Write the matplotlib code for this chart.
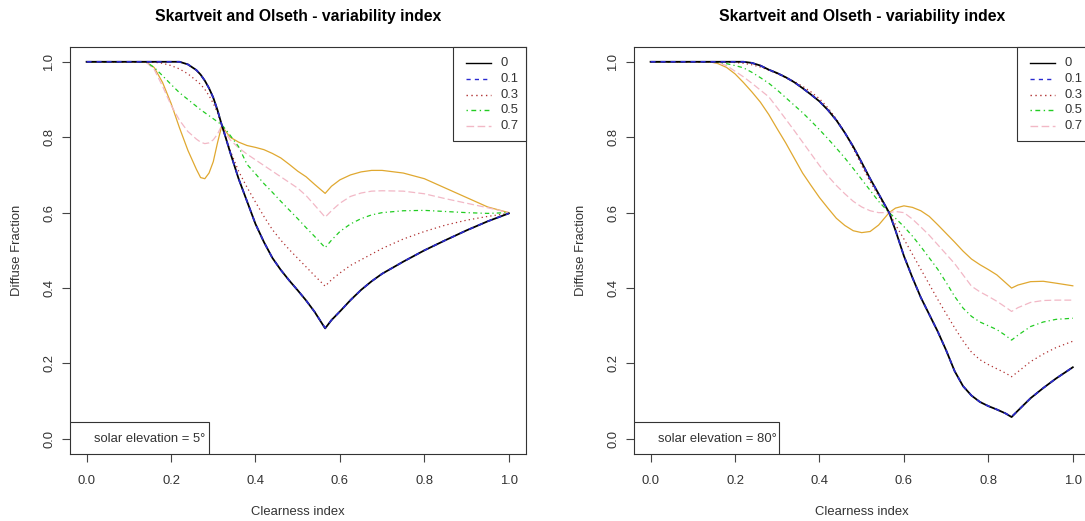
import matplotlib
matplotlib.use("Agg")
import matplotlib.pyplot as plt
from matplotlib.patches import Rectangle
from matplotlib.lines import Line2D

# ---------------- data ----------------
title = "Skartveit and Olseth - variability index"
xlabel = "Clearness index"
ylabel = "Diffuse Fraction"
legend_labels = ["0", "0.1", "0.3", "0.5", "0.7"]
elev_labels = ["solar elevation = 5°", "solar elevation = 80°"]
xticks = [0.0, 0.2, 0.4, 0.6, 0.8, 1.0]
yticks = [0.0, 0.2, 0.4, 0.6, 0.8, 1.0]

# left panel: solar elevation 5 deg
kt_left = [0, 0.05, 0.10, 0.14, 0.16, 0.18, 0.20, 0.22, 0.24, 0.26,
           0.27, 0.28, 0.29, 0.30, 0.31, 0.32, 0.33, 0.34, 0.36, 0.38,
           0.40, 0.42, 0.44, 0.46, 0.48, 0.50, 0.52, 0.54, 0.565, 0.58,
           0.60, 0.625, 0.65, 0.675, 0.70, 0.75, 0.80, 0.85, 0.90, 0.95, 1.0]
left_v00 = [1, 1, 1, 1, 1, 1, 1, 1.0, 0.993, 0.978,
            0.966, 0.95, 0.93, 0.905, 0.872, 0.833, 0.797, 0.76, 0.69, 0.63,
            0.57, 0.522, 0.48, 0.448, 0.42, 0.394, 0.367, 0.337, 0.293, 0.315,
            0.338, 0.368, 0.395, 0.418, 0.438, 0.47, 0.50, 0.527, 0.553, 0.577, 0.598]
left_v01 = [1, 1, 1, 1, 1, 1, 1, 1.0, 0.993, 0.978,
            0.966, 0.95, 0.93, 0.905, 0.872, 0.833, 0.797, 0.76, 0.69, 0.63,
            0.57, 0.522, 0.48, 0.448, 0.42, 0.394, 0.367, 0.337, 0.294, 0.315,
            0.338, 0.368, 0.395, 0.418, 0.438, 0.47, 0.50, 0.527, 0.553, 0.577, 0.598]
left_v03 = [1, 1, 1, 1, 0.999, 0.996, 0.99, 0.981, 0.968, 0.95,
            0.94, 0.927, 0.91, 0.89, 0.865, 0.833, 0.797, 0.765, 0.71, 0.667,
            0.628, 0.59, 0.555, 0.527, 0.502, 0.479, 0.456, 0.433, 0.405, 0.422,
            0.44, 0.46, 0.475, 0.49, 0.505, 0.53, 0.55, 0.567, 0.58, 0.59, 0.598]
left_v05 = [1, 1, 1, 1, 0.985, 0.963, 0.94, 0.918, 0.9, 0.882,
            0.873, 0.865, 0.857, 0.849, 0.841, 0.833, 0.82, 0.805, 0.775, 0.728,
            0.703, 0.677, 0.654, 0.63, 0.607, 0.584, 0.56, 0.537, 0.507, 0.527,
            0.55, 0.57, 0.584, 0.594, 0.6, 0.605, 0.606, 0.603, 0.6, 0.598, 0.6]
left_v07 = [1, 1, 1, 1, 0.98, 0.935, 0.885, 0.845, 0.815, 0.795,
            0.787, 0.783, 0.785, 0.793, 0.808, 0.831, 0.81, 0.793, 0.772, 0.755,
            0.74, 0.725, 0.71, 0.695, 0.68, 0.665, 0.645, 0.62, 0.588, 0.605,
            0.625, 0.643, 0.652, 0.657, 0.658, 0.657, 0.65, 0.637, 0.625, 0.613, 0.6]
left_v09 = [1, 1, 1, 1, 0.985, 0.945, 0.89, 0.825, 0.765, 0.715,
            0.693, 0.69, 0.705, 0.735, 0.785, 0.83, 0.815, 0.80, 0.787, 0.778,
            0.773, 0.767, 0.757, 0.745, 0.728, 0.71, 0.695, 0.675, 0.651, 0.67,
            0.687, 0.70, 0.708, 0.712, 0.712, 0.705, 0.69, 0.665, 0.64, 0.615, 0.6]

# right panel: solar elevation 80 deg
kt_right = [0, 0.05, 0.10, 0.14, 0.16, 0.18, 0.20, 0.22, 0.24, 0.26,
            0.28, 0.30, 0.32, 0.34, 0.36, 0.38, 0.40, 0.42, 0.44, 0.46,
            0.48, 0.50, 0.52, 0.54, 0.565, 0.58, 0.60, 0.62, 0.64, 0.66,
            0.68, 0.70, 0.72, 0.74, 0.76, 0.78, 0.80, 0.82, 0.84, 0.855,
            0.87, 0.90, 0.93, 0.96, 1.0]
right_v00 = [1, 1, 1, 1, 1, 1, 1, 1.0, 0.997, 0.99,
             0.979, 0.97, 0.959, 0.946, 0.93, 0.913, 0.895, 0.872, 0.845, 0.812,
             0.775, 0.733, 0.69, 0.65, 0.6, 0.553, 0.485, 0.428, 0.375, 0.33,
             0.285, 0.235, 0.18, 0.14, 0.115, 0.098, 0.087, 0.078, 0.068, 0.058,
             0.075, 0.108, 0.135, 0.16, 0.19]
right_v01 = [1, 1, 1, 1, 1, 1, 1, 1.0, 0.997, 0.99,
             0.979, 0.97, 0.959, 0.946, 0.93, 0.913, 0.895, 0.872, 0.845, 0.812,
             0.775, 0.733, 0.69, 0.65, 0.6, 0.553, 0.485, 0.428, 0.375, 0.33,
             0.285, 0.235, 0.18, 0.14, 0.115, 0.098, 0.087, 0.078, 0.068, 0.059,
             0.075, 0.108, 0.135, 0.16, 0.19]
right_v03 = [1, 1, 1, 1, 1.0, 0.999, 0.998, 0.996, 0.992, 0.986,
             0.978, 0.968, 0.958, 0.948, 0.935, 0.92, 0.902, 0.878, 0.848, 0.812,
             0.77, 0.725, 0.682, 0.644, 0.6, 0.568, 0.53, 0.49, 0.45, 0.41,
             0.37, 0.332, 0.295, 0.26, 0.23, 0.21, 0.197, 0.186, 0.175, 0.165,
             0.178, 0.205, 0.225, 0.242, 0.259]
right_v05 = [1, 1, 1, 1, 0.999, 0.995, 0.99, 0.984, 0.972, 0.958,
             0.943, 0.925, 0.905, 0.885, 0.865, 0.843, 0.82, 0.796, 0.771, 0.745,
             0.717, 0.688, 0.659, 0.63, 0.6, 0.585, 0.563, 0.538, 0.51, 0.48,
             0.45, 0.415, 0.378, 0.347, 0.325, 0.31, 0.30, 0.29, 0.275, 0.262,
             0.275, 0.298, 0.31, 0.317, 0.32]
right_v07 = [1, 1, 1, 1, 0.997, 0.99, 0.975, 0.96, 0.943, 0.925,
             0.907, 0.878, 0.848, 0.818, 0.787, 0.756, 0.725, 0.697, 0.672, 0.65,
             0.63, 0.615, 0.605, 0.60, 0.60, 0.603, 0.60, 0.583, 0.562, 0.54,
             0.515, 0.49, 0.465, 0.435, 0.405, 0.39, 0.378, 0.365, 0.35, 0.338,
             0.348, 0.362, 0.367, 0.368, 0.368]
right_v09 = [1, 1, 1, 1, 0.995, 0.985, 0.968, 0.945, 0.92, 0.893,
             0.86, 0.822, 0.785, 0.745, 0.705, 0.672, 0.64, 0.612, 0.585, 0.566,
             0.552, 0.547, 0.55, 0.567, 0.60, 0.612, 0.618, 0.614, 0.605, 0.59,
             0.568, 0.545, 0.522, 0.498, 0.477, 0.462, 0.449, 0.435, 0.415, 0.40,
             0.408, 0.417, 0.418, 0.413, 0.406]

# ---------------- styling ----------------
W, H = 1085, 521
FS = 9.4
TFS = 11.3
FONT = "Liberation Sans"
plt.rcParams["font.family"] = [FONT, "DejaVu Sans"]

series_styles = [
    dict(color="black", ls="-", lw=1.3),
    dict(color="#2a2ad0", ls=(0, (3, 3)), lw=1.2),
    dict(color="#b03030", ls=(0, (1, 2.5)), lw=0.9),
    dict(color="#22cc22", ls=(0, (1, 2.5, 3.5, 2.5)), lw=0.9),
    dict(color="#f2b8c6", ls=(0, (5.5, 2.5)), lw=0.9),
    dict(color="#e0a830", ls="-", lw=0.9),
]

fig = plt.figure(figsize=(W / 100, H / 100), dpi=100)

ax_w = 456 / W
ax_h = 407.3 / H
ax_b = (H - 454) / H
lefts = [69.7 / W, 633.7 / W]

panels = [
    (kt_left, [left_v00, left_v01, left_v03, left_v05, left_v07, left_v09], elev_labels[0], 0.3044),
    (kt_right, [right_v00, right_v01, right_v03, right_v05, right_v07, right_v09], elev_labels[1], 0.3195),
]

for (kt, curves, elev, boxw), lx in zip(panels, lefts):
    ax = fig.add_axes([lx, ax_b, ax_w, ax_h])
    # draw in order: coloured first, then black, then blue dashed on top
    order = [5, 4, 3, 2, 0, 1]
    for i in order:
        st = series_styles[i]
        ax.plot(kt, curves[i], color=st["color"], linestyle=st["ls"], lw=st["lw"],
                solid_joinstyle="round", dash_capstyle="butt")
    ax.set_xlim(-0.04, 1.04)
    ax.set_ylim(-0.04, 1.04)
    ax.set_xticks(xticks)
    ax.set_xticklabels([f"{v:.1f}" for v in xticks])
    ax.set_yticks(yticks)
    ax.set_yticklabels([f"{v:.1f}" for v in yticks], rotation=90, va="center")
    ax.tick_params(axis="both", length=5.5, width=0.8, color="#444444",
                   labelsize=FS, labelcolor="#333333")
    ax.tick_params(axis="x", pad=9.5)
    ax.tick_params(axis="y", pad=5)
    for sp in ax.spines.values():
        sp.set_linewidth(0.8)
        sp.set_color("#333333")

    # title and axis labels
    cx = lx + ax_w / 2
    fig.text(cx, 1 - 20.7 / H, title, ha="center", va="baseline",
             fontsize=TFS, fontweight="bold", color="black")
    fig.text(cx, 1 - 512 / H, xlabel, ha="center", va="center",
             fontsize=FS, color="#333333")
    fig.text(lx - 52.5 / W, 1 - 250.3 / H, ylabel, ha="center", va="center",
             rotation=90, fontsize=FS, color="#333333")

    # legend (box anchored to the top-right corner of the plot region)
    lb_x0, lb_y0 = 0.840, 0.7685
    ax.add_patch(Rectangle((lb_x0, lb_y0), 1.0 - lb_x0, 1.0 - lb_y0,
                           transform=ax.transAxes, fill=True, facecolor="white",
                           edgecolor="#333333", lw=0.8, clip_on=False, zorder=5))
    for k, lab in enumerate(legend_labels):
        yy = 0.9592 - 0.0385 * k
        st = series_styles[k]
        ax.add_line(Line2D([0.8687, 0.9236], [yy, yy], transform=ax.transAxes,
                           color=st["color"], linestyle=st["ls"], lw=1.0,
                           clip_on=False, zorder=6))
        ax.text(0.9455, yy, lab, transform=ax.transAxes, ha="left",
                va="center", fontsize=FS, color="#333333", zorder=6, clip_on=False)

    # solar elevation box
    ax.add_patch(Rectangle((0, 0), boxw, 0.0778, transform=ax.transAxes,
                           facecolor="white", edgecolor="#333333", lw=0.8, zorder=5))
    ax.text(0.0525, 0.0368, elev, transform=ax.transAxes, ha="left", va="center",
            fontsize=FS, color="#333333", zorder=6)

fig.savefig("out.png", dpi=100)
